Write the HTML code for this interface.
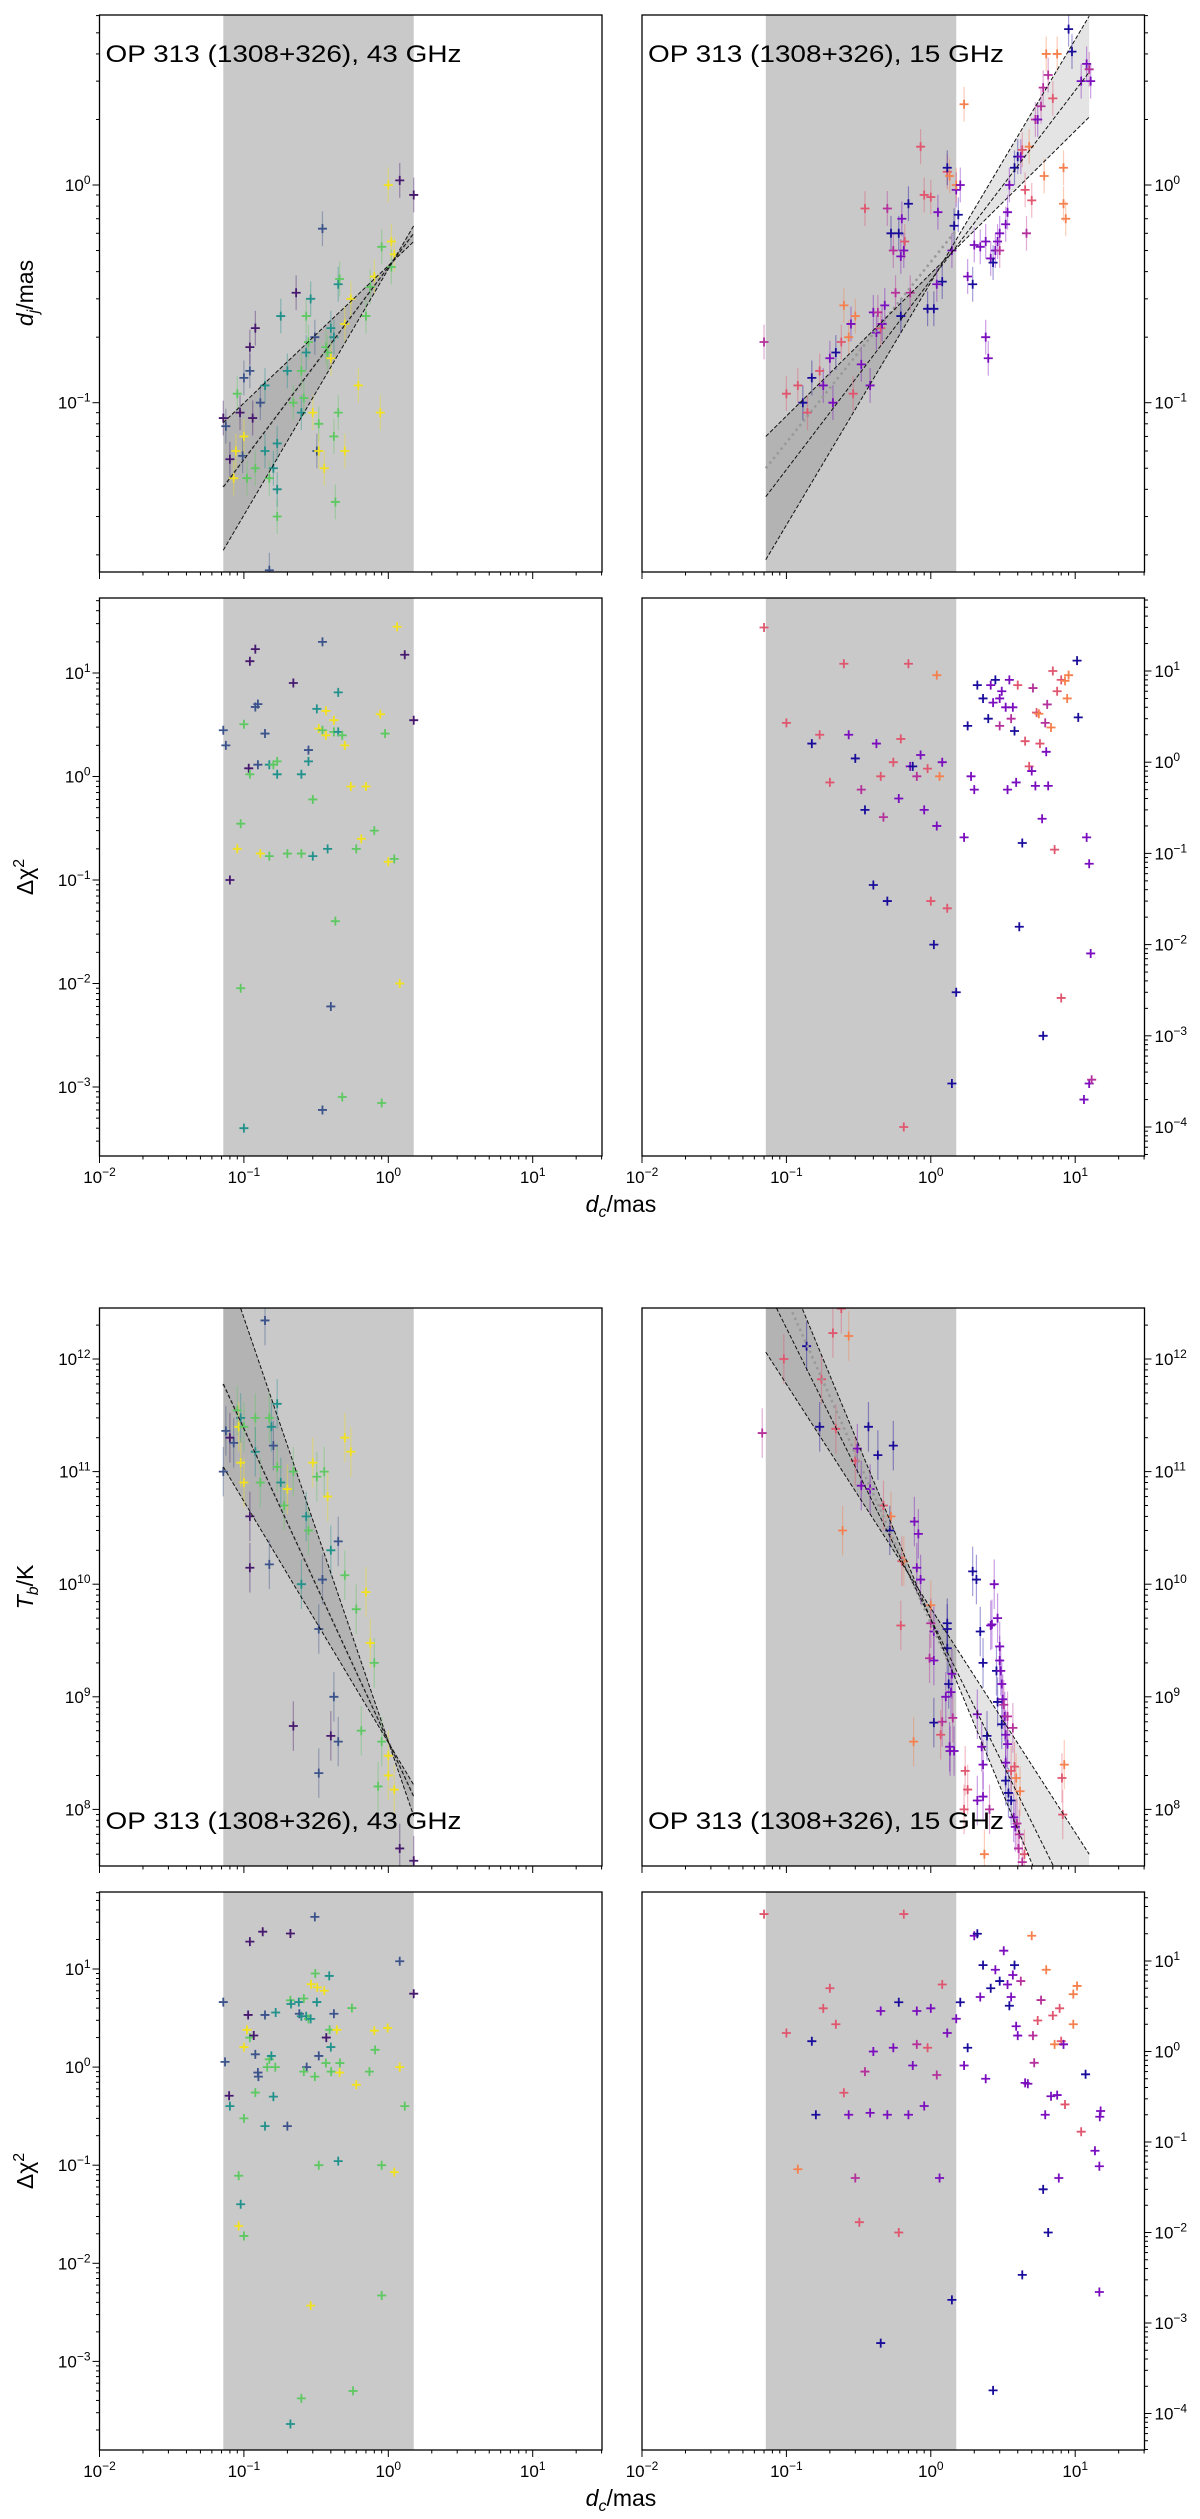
<!DOCTYPE html>
<html><head><meta charset="utf-8">
<style>
html,body{margin:0;padding:0;background:#fff;}
svg{display:block;font-family:"Liberation Sans","DejaVu Sans",sans-serif;}
</style></head>
<body>
<svg id="fig" width="1200" height="2519" viewBox="0 0 1200 2519" xmlns="http://www.w3.org/2000/svg"></svg>
<script>
// ---------------- DATA ----------------
// colour codes: left (viridis) p,b,t,g,y ; right (plasma) B,P,M,R,O
const xTickLabels = ["10","10","10","10"];
const xTickExps = [-2,-1,0,1];
const shadeRange = [0.072, 1.5];

const djPoints43 = [[0.072,0.085,'p'],[0.075,0.078,'b'],[0.08,0.055,'p'],[0.085,0.045,'y'],[0.088,0.06,'y'],[0.09,0.11,'g'],[0.094,0.09,'p'],[0.098,0.057,'b'],[0.1,0.07,'y'],[0.1,0.13,'b'],[0.105,0.045,'g'],[0.11,0.14,'b'],[0.11,0.18,'p'],[0.115,0.085,'p'],[0.12,0.05,'g'],[0.12,0.22,'p'],[0.13,0.1,'b'],[0.14,0.06,'t'],[0.14,0.12,'t'],[0.15,0.017,'b'],[0.15,0.045,'g'],[0.16,0.05,'t'],[0.17,0.03,'g'],[0.17,0.04,'t'],[0.17,0.065,'t'],[0.18,0.25,'t'],[0.2,0.14,'t'],[0.22,0.1,'g'],[0.23,0.32,'p'],[0.25,0.09,'t'],[0.25,0.14,'g'],[0.26,0.105,'g'],[0.27,0.17,'t'],[0.27,0.25,'g'],[0.28,0.19,'g'],[0.29,0.3,'t'],[0.3,0.09,'y'],[0.31,0.2,'b'],[0.32,0.06,'b'],[0.33,0.08,'g'],[0.33,0.06,'y'],[0.35,0.63,'b'],[0.36,0.05,'y'],[0.37,0.18,'g'],[0.38,0.17,'g'],[0.4,0.16,'y'],[0.4,0.22,'t'],[0.42,0.2,'t'],[0.42,0.07,'g'],[0.43,0.035,'g'],[0.45,0.09,'g'],[0.45,0.35,'t'],[0.46,0.37,'g'],[0.5,0.06,'y'],[0.5,0.23,'y'],[0.55,0.3,'y'],[0.62,0.12,'y'],[0.7,0.25,'g'],[0.75,0.34,'g'],[0.8,0.38,'y'],[0.88,0.09,'y'],[0.9,0.52,'g'],[1.0,1.0,'y'],[1.05,0.55,'y'],[1.05,0.42,'g'],[1.2,1.05,'p'],[1.5,0.9,'p'],[1.1,0.48,'y']];

const chiPoints43a = [[0.072,2.8,'b'],[0.075,2,'b'],[0.08,0.1,'p'],[0.09,0.2,'y'],[0.095,0.35,'g'],[0.095,0.009,'g'],[0.1,0.0004,'t'],[0.1,3.2,'g'],[0.108,1.2,'p'],[0.11,13,'p'],[0.11,1.05,'g'],[0.12,17,'p'],[0.12,4.7,'b'],[0.125,5,'b'],[0.125,1.3,'b'],[0.13,0.18,'y'],[0.14,2.6,'b'],[0.15,1.3,'t'],[0.15,0.17,'g'],[0.16,1.3,'g'],[0.17,1.4,'g'],[0.17,1.05,'t'],[0.2,0.18,'g'],[0.22,8,'p'],[0.25,1.05,'t'],[0.25,0.18,'g'],[0.28,1.8,'b'],[0.28,1.4,'t'],[0.3,0.17,'t'],[0.32,4.5,'t'],[0.33,2.9,'y'],[0.35,2.8,'g'],[0.35,20,'b'],[0.35,0.0006,'b'],[0.37,4.3,'y'],[0.37,2.5,'y'],[0.38,0.2,'t'],[0.4,0.006,'b'],[0.42,3.5,'y'],[0.42,2.7,'g'],[0.43,0.04,'g'],[0.45,6.5,'t'],[0.45,2.7,'t'],[0.48,2.5,'g'],[0.48,0.0008,'g'],[0.5,2,'y'],[0.55,0.8,'y'],[0.6,0.2,'g'],[0.7,0.8,'y'],[0.8,0.3,'g'],[0.9,0.0007,'g'],[0.88,4,'y'],[0.95,2.6,'g'],[1.0,0.15,'y'],[1.1,0.16,'g'],[1.15,28,'y'],[1.2,0.01,'y'],[1.3,15,'p'],[1.5,3.5,'p'],[0.65,0.25,'y'],[0.3,0.6,'g']];

const djPoints15 = [[0.07,0.19,'M'],[0.1,0.11,'R'],[0.12,0.12,'R'],[0.13,0.1,'B'],[0.14,0.09,'R'],[0.15,0.13,'B'],[0.17,0.14,'R'],[0.18,0.12,'P'],[0.2,0.16,'P'],[0.21,0.1,'P'],[0.22,0.17,'B'],[0.24,0.19,'R'],[0.25,0.28,'O'],[0.27,0.2,'O'],[0.28,0.23,'P'],[0.29,0.11,'R'],[0.3,0.25,'O'],[0.33,0.15,'P'],[0.35,0.78,'R'],[0.38,0.12,'P'],[0.4,0.26,'P'],[0.42,0.21,'P'],[0.43,0.26,'M'],[0.45,0.22,'R'],[0.46,0.23,'P'],[0.48,0.28,'P'],[0.5,0.78,'M'],[0.53,0.6,'B'],[0.55,0.5,'M'],[0.57,0.32,'M'],[0.6,0.6,'B'],[0.62,0.25,'B'],[0.62,0.47,'P'],[0.63,0.7,'P'],[0.65,0.5,'P'],[0.66,0.55,'R'],[0.7,0.82,'B'],[0.72,0.32,'M'],[0.85,1.5,'R'],[0.9,0.9,'R'],[0.95,0.27,'B'],[1.0,0.88,'R'],[1.05,0.27,'B'],[1.1,0.35,'P'],[1.12,0.75,'P'],[1.2,0.36,'B'],[1.3,1.15,'R'],[1.3,1.2,'B'],[1.35,1.1,'O'],[1.4,0.5,'P'],[1.45,0.65,'B'],[1.5,0.95,'P'],[1.55,0.73,'B'],[1.5,1.0,'O'],[1.6,1.0,'P'],[1.7,2.35,'O'],[1.8,0.38,'P'],[1.95,0.35,'B'],[2.0,0.53,'P'],[2.2,0.52,'P'],[2.4,0.2,'P'],[2.5,0.16,'P'],[2.4,0.55,'P'],[2.6,0.46,'P'],[2.7,0.44,'B'],[2.8,0.5,'P'],[2.9,0.55,'P'],[3.0,0.6,'P'],[3.0,0.5,'M'],[3.3,0.66,'P'],[3.4,0.75,'P'],[3.5,1.0,'P'],[3.8,1.2,'B'],[4.0,1.35,'B'],[4.2,1.35,'P'],[4.3,1.45,'R'],[4.5,0.95,'R'],[4.6,0.6,'M'],[4.8,1.5,'O'],[5.0,0.85,'R'],[5.3,2.0,'M'],[5.5,2.0,'P'],[5.8,2.3,'M'],[6.0,2.8,'M'],[6.1,1.1,'O'],[6.3,4.0,'O'],[6.5,3.2,'M'],[7.0,2.5,'R'],[7.5,4.0,'O'],[8.3,1.2,'O'],[8.3,0.82,'O'],[8.6,0.7,'O'],[9.0,5.2,'B'],[9.5,4.1,'B'],[11,3.0,'P'],[12,3.6,'P'],[12.5,3.4,'M'],[12.8,3.0,'P']];

const chiPoints15a = [[0.07,30,'R'],[0.1,2.7,'R'],[0.15,1.6,'B'],[0.17,2,'R'],[0.2,0.6,'R'],[0.25,12,'R'],[0.27,2,'P'],[0.3,1.1,'B'],[0.33,0.5,'M'],[0.35,0.3,'B'],[0.4,0.045,'B'],[0.42,1.6,'P'],[0.45,0.7,'R'],[0.47,0.25,'M'],[0.5,0.03,'B'],[0.55,1,'R'],[0.6,0.4,'P'],[0.62,1.8,'R'],[0.65,0.0001,'R'],[0.7,12,'R'],[0.72,0.9,'P'],[0.75,0.9,'B'],[0.8,0.7,'M'],[0.85,1.2,'P'],[0.9,0.3,'P'],[0.95,0.85,'R'],[1.0,0.03,'R'],[1.05,0.01,'B'],[1.1,9,'O'],[1.1,0.2,'P'],[1.15,0.7,'O'],[1.2,1.0,'P'],[1.3,0.025,'R'],[1.4,0.0003,'B'],[1.5,0.003,'B'],[1.7,0.15,'P'],[1.8,2.5,'B'],[1.9,0.7,'P'],[2.0,0.5,'P'],[2.1,7,'B'],[2.3,5,'B'],[2.5,3,'B'],[2.6,7,'P'],[2.7,4.5,'P'],[2.8,8,'B'],[3.0,2.5,'M'],[3.0,5,'P'],[3.1,6,'P'],[3.3,4,'P'],[3.4,0.5,'P'],[3.5,8,'P'],[3.6,3,'M'],[3.7,4,'P'],[3.8,2.2,'B'],[3.9,0.6,'P'],[4.0,7,'R'],[4.1,0.0157,'B'],[4.3,0.13,'B'],[4.5,1.7,'R'],[4.8,0.9,'R'],[5.0,0.8,'P'],[5.1,6.5,'M'],[5.3,0.55,'P'],[5.4,3.5,'R'],[5.6,3.4,'O'],[5.7,1.6,'R'],[5.9,0.24,'P'],[6.0,0.001,'B'],[6.2,2.7,'M'],[6.5,0.55,'P'],[6.4,4.3,'M'],[6.3,1.3,'P'],[6.8,2.4,'O'],[7.0,10,'R'],[7.2,0.11,'R'],[7.5,6,'R'],[8.0,0.0026,'R'],[8.0,8,'R'],[8.5,7.8,'O'],[8.8,5,'O'],[9.0,9,'O'],[10.3,13,'B'],[10.5,3.1,'B'],[12,0.15,'P'],[12.5,0.077,'P'],[12.8,0.008,'P'],[11.5,0.0002,'P'],[12.5,0.0003,'P'],[13,0.00033,'M']];

const tbPoints43 = [[0.072,1e11,'b'],[0.075,2.3e11,'b'],[0.08,2e11,'p'],[0.085,1.8e11,'b'],[0.09,3.5e11,'g'],[0.092,2.5e11,'y'],[0.095,1.2e11,'y'],[0.095,3e11,'t'],[0.1,2.5e11,'g'],[0.1,8e10,'y'],[0.11,4e10,'p'],[0.11,1.4e10,'p'],[0.12,3e11,'g'],[0.12,1.5e11,'t'],[0.13,8e10,'g'],[0.14,2.2e12,'b'],[0.15,3e11,'g'],[0.155,2.5e11,'t'],[0.16,1.7e11,'b'],[0.17,4e11,'t'],[0.17,1.1e11,'g'],[0.18,8e10,'t'],[0.19,5e10,'g'],[0.2,7e10,'y'],[0.22,1e11,'g'],[0.22,5.5e8,'p'],[0.25,1e10,'t'],[0.27,4e10,'t'],[0.3,1.2e11,'y'],[0.32,9e10,'g'],[0.33,4e9,'b'],[0.33,2.1e8,'b'],[0.35,1.1e10,'b'],[0.36,1e11,'g'],[0.38,6e10,'y'],[0.4,4.5e8,'p'],[0.4,2e10,'t'],[0.42,1e9,'b'],[0.45,4e8,'b'],[0.45,2.4e10,'b'],[0.5,2e11,'y'],[0.5,1.2e10,'g'],[0.55,1.5e11,'y'],[0.6,6e9,'g'],[0.65,5e8,'g'],[0.7,8.5e9,'y'],[0.75,3e9,'y'],[0.8,2e9,'g'],[0.85,1.6e8,'g'],[0.9,4e8,'g'],[1.0,2e8,'y'],[1.0,3e8,'y'],[1.1,1.5e8,'y'],[1.2,4.5e7,'p'],[1.5,3.5e7,'p'],[0.15,1.5e10,'b'],[0.28,3e10,'g']];

const tbPoints15 = [[0.068,2.2e11,'M'],[0.096,1e12,'R'],[0.138,1.3e12,'B'],[0.17,2.5e11,'B'],[0.175,6.6e11,'R'],[0.21,1.7e12,'R'],[0.22,2.4e11,'R'],[0.27,1.6e12,'O'],[0.245,3e10,'O'],[0.3,1.25e11,'R'],[0.31,1.6e11,'P'],[0.33,7.5e10,'P'],[0.37,2.5e11,'B'],[0.38,7e10,'P'],[0.43,1.4e11,'B'],[0.47,5e10,'R'],[0.52,3e10,'B'],[0.53,4e10,'O'],[0.55,1.7e11,'B'],[0.62,4.3e9,'R'],[0.63,1.6e10,'R'],[0.65,1.6e10,'O'],[0.76,4e8,'O'],[0.77,3.6e10,'P'],[0.8,1.4e10,'P'],[0.82,2.8e10,'P'],[0.85,1.1e10,'P'],[0.98,2.2e9,'M'],[1.0,6.5e9,'O'],[1.0,4.5e9,'M'],[1.05,5.9e8,'B'],[1.05,2.1e9,'P'],[1.05,3.8e9,'P'],[1.17,4.6e8,'R'],[1.2,6e8,'M'],[1.27,1e9,'P'],[1.3,4e9,'B'],[1.3,4.5e9,'B'],[1.3,2.7e9,'B'],[1.33,1.3e9,'B'],[1.35,3.6e8,'P'],[1.36,3.3e8,'P'],[1.38,1.1e9,'P'],[1.4,1.6e9,'P'],[1.42,6.5e8,'M'],[1.45,3.3e8,'P'],[1.73,2.2e8,'R'],[1.7,1e8,'R'],[1.8,1.5e8,'R'],[1.95,1.3e10,'B'],[2.07,1.1e10,'B'],[2.1,7e8,'P'],[2.1,1.2e8,'P'],[2.2,3.8e9,'B'],[2.25,3.6e8,'P'],[2.3,2e9,'B'],[2.3,2.5e8,'P'],[2.3,1.3e8,'P'],[2.35,4e7,'O'],[2.45,4.5e8,'B'],[2.55,1e8,'M'],[2.6,4.3e9,'P'],[2.65,4.4e9,'P'],[2.75,1e10,'P'],[2.85,1.7e9,'B'],[2.9,5e9,'P'],[2.9,9e8,'B'],[3.0,2.8e9,'P'],[3.0,2.1e9,'P'],[3.05,1.7e9,'P'],[3.1,1.3e9,'P'],[3.1,5.7e8,'B'],[3.15,9.5e8,'P'],[3.2,8.5e8,'M'],[3.25,6.7e8,'P'],[3.3,4.6e8,'P'],[3.3,2.6e8,'P'],[3.3,1.8e8,'B'],[3.4,3.8e8,'P'],[3.4,6.7e8,'M'],[3.45,1.4e8,'B'],[3.6,1.2e8,'B'],[3.6,2.2e8,'R'],[3.7,5.3e8,'M'],[3.75,8.5e7,'P'],[3.8,2.4e8,'R'],[3.85,7e7,'P'],[3.9,1.9e8,'O'],[3.95,7.5e7,'M'],[4.05,4.5e7,'M'],[4.1,6e7,'M'],[4.15,1.45e8,'O'],[4.3,3.4e7,'M'],[4.45,4e7,'R'],[8.1,1.9e8,'R'],[8.2,9e7,'R'],[8.4,2.5e8,'O'],[0.24,2.8e12,'R']];

const chiPoints43b = [[0.072,4.6,'b'],[0.074,1.13,'b'],[0.079,0.51,'p'],[0.1,1.6,'y'],[0.105,2.4,'y'],[0.107,3.4,'p'],[0.11,19,'p'],[0.11,2.0,'g'],[0.117,2.1,'p'],[0.12,1.35,'b'],[0.125,0.88,'b'],[0.126,0.8,'b'],[0.12,0.55,'g'],[0.135,24,'p'],[0.14,3.4,'b'],[0.145,1.0,'g'],[0.15,1.2,'g'],[0.155,1.3,'t'],[0.16,0.5,'t'],[0.165,1.0,'g'],[0.166,3.6,'t'],[0.21,23,'p'],[0.21,4.8,'g'],[0.212,4.4,'t'],[0.24,4.6,'t'],[0.242,3.5,'b'],[0.25,3.3,'t'],[0.26,5,'g'],[0.27,3.3,'t'],[0.272,1.0,'b'],[0.26,0.9,'g'],[0.28,3.1,'g'],[0.29,3.1,'t'],[0.292,7,'y'],[0.31,0.8,'g'],[0.31,34,'b'],[0.312,9,'g'],[0.32,4.6,'t'],[0.322,6.5,'y'],[0.33,1.3,'b'],[0.36,6,'y'],[0.37,1.1,'g'],[0.372,2,'p'],[0.39,8.5,'t'],[0.392,2.4,'g'],[0.4,1.6,'t'],[0.402,0.9,'g'],[0.42,3.5,'b'],[0.44,2.4,'y'],[0.46,0.88,'y'],[0.462,1.1,'g'],[0.56,4,'g'],[0.6,0.66,'y'],[0.74,0.9,'g'],[0.8,2.35,'y'],[0.81,1.5,'g'],[0.99,2.5,'y'],[0.092,0.078,'g'],[0.095,0.04,'t'],[0.092,0.024,'y'],[0.1,0.019,'g'],[0.14,0.25,'t'],[0.33,0.1,'g'],[0.45,0.11,'t'],[0.9,0.1,'g'],[1.1,0.085,'y'],[0.29,0.0037,'y'],[0.9,0.0047,'g'],[0.25,0.00042,'g'],[0.21,0.00023,'t'],[0.57,0.0005,'g'],[1.2,12,'b'],[1.5,5.6,'p'],[1.2,1.0,'y'],[1.3,0.4,'g'],[0.08,0.4,'t'],[0.1,0.3,'g'],[0.2,0.25,'b']];

const chiPoints15b = [[0.07,33,'R'],[0.1,1.6,'R'],[0.12,0.05,'O'],[0.15,1.3,'B'],[0.16,0.2,'B'],[0.18,3,'R'],[0.2,5,'R'],[0.22,2,'R'],[0.25,0.35,'R'],[0.27,0.2,'P'],[0.3,0.04,'M'],[0.32,0.013,'R'],[0.35,0.6,'M'],[0.38,0.21,'P'],[0.4,1.0,'P'],[0.45,0.0006,'B'],[0.45,2.8,'P'],[0.5,0.2,'P'],[0.55,1.1,'P'],[0.6,0.01,'R'],[0.6,3.5,'B'],[0.65,33,'R'],[0.7,0.2,'P'],[0.75,0.7,'P'],[0.8,2.8,'P'],[0.8,1.2,'M'],[0.9,0.25,'P'],[0.95,1.1,'R'],[1.0,3,'P'],[1.1,0.55,'M'],[1.15,0.04,'P'],[1.2,5.5,'R'],[1.3,1.6,'P'],[1.4,0.0018,'B'],[1.5,2.3,'P'],[1.6,3.5,'B'],[1.7,0.7,'P'],[1.8,1.1,'B'],[2.0,19,'P'],[2.1,20,'B'],[2.2,4,'P'],[2.3,9,'B'],[2.4,0.5,'P'],[2.6,5,'B'],[2.7,0.00018,'B'],[2.8,8,'P'],[3.0,6,'B'],[3.2,13,'P'],[3.4,5.5,'P'],[3.5,3.2,'B'],[3.6,4,'P'],[3.7,7,'P'],[3.8,9,'B'],[3.9,1.9,'P'],[4.0,1.5,'P'],[4.2,6,'M'],[4.3,0.0034,'B'],[4.5,0.45,'P'],[4.7,0.44,'P'],[5.0,19,'O'],[5.1,1.5,'M'],[5.2,0.75,'M'],[5.5,2.2,'R'],[5.8,3.7,'M'],[6.0,0.03,'B'],[6.2,0.2,'P'],[6.5,0.01,'B'],[6.8,0.32,'P'],[7.0,2.5,'R'],[7.2,1.2,'O'],[7.5,0.33,'P'],[7.7,0.04,'P'],[8.0,1.3,'R'],[8.3,1.2,'P'],[8.5,0.26,'R'],[7.8,3,'R'],[9.7,2.0,'O'],[9.7,4.3,'O'],[10.3,5.3,'O'],[11.8,0.56,'B'],[6.3,8,'O'],[14.7,0.054,'P'],[13.7,0.08,'P'],[15,0.22,'P'],[14.8,0.19,'P'],[14.7,0.0022,'P'],[11,0.13,'R']];

// fit lines: [x0, y0, x1, y1]  (first = shallow, last = steep)
const fitDj43 = [[0.072,0.081,1.5,0.55],[0.072,0.041,1.5,0.6],[0.072,0.021,1.5,0.65]];
const fitDj15 = [[0.072,0.07,12.5,2.05],[0.072,0.037,12.5,3.3],[0.072,0.019,12.5,5.97]];
const dotDj15 = [0.072,0.05,1.5,0.62];
const fitTb43 = [[0.072,1.1e11,1.5,1.65e8],[0.072,6e11,1.5,1.3e8],[0.072,8e12,1.5,8.7e7]];
const fitTb15 = [[0.072,1.15e12,12.5,4e7],[0.072,4.4e12,12.5,7.2e6],[0.072,1.7e13,12.5,1.95e6]];
const dotTb15 = [0.11,2.6e12,1.35,1.9e9];

// ---------------- RENDER ----------------
const NS = "http://www.w3.org/2000/svg";
const svg = document.getElementById('fig');
const COLORS = {p:'#46186e',b:'#3b528b',t:'#21918c',g:'#5ec962',y:'#f2e11e',
                B:'#1a0c9a',P:'#7a0dbd',M:'#b5309b',R:'#e0566e',O:'#f5804d'};
function mk(tag, attrs, parent){const e=document.createElementNS(NS,tag);for(const k in attrs)e.setAttribute(k,attrs[k]);(parent||svg).appendChild(e);return e;}
const L10=Math.log10;
const XDEC=144.4;
function makeX(x0){return v=>x0+XDEC*(L10(v)+2);}
function makeY(refPx, refExp, dec){return v=>refPx-dec*(L10(v)-refExp);}

let clipId=0;
function panel(o){
  const g=mk('g',{});
  
  
  const x0=o.x0, x1=o.x0+502.5, y0=o.top, y1=o.bottom;
  const X=makeX(x0), Y=makeY(o.refPx,o.refExp,o.dec);
  const cid='clip'+(clipId++);
  const cp=mk('clipPath',{id:cid},g); mk('rect',{x:x0,y:y0,width:x1-x0,height:y1-y0},cp);
  const body=mk('g',{'clip-path':'url(#'+cid+')'},g);
  // shaded region
  const sh=mk('rect',{x:X(shadeRange[0]),y:y0,width:X(shadeRange[1])-X(shadeRange[0]),height:y1-y0,fill:'#c9c9c9'},body);
  
  
  // fit band
  if(o.fits){
    const a=o.fits[0], c=o.fits[o.fits.length-1];
    const pts=[[X(a[0]),Y(a[1])],[X(a[2]),Y(a[3])],[X(c[2]),Y(c[3])],[X(c[0]),Y(c[1])]];
    const band=mk('polygon',{points:pts.map(p=>p.join(',')).join(' '),fill:'rgba(0,0,0,0.106)'},body);
    
    
  }
  // errors + points
  const pts=o.points;
  for(const p of pts){
    const cx=X(p[0]), cy=Y(p[1]), col=COLORS[p[2]];
    if(o.err){
      const e=mk('line',{x1:cx,x2:cx,y1:Y(p[1]*Math.pow(10,o.err)),y2:Y(p[1]/Math.pow(10,o.err)),stroke:col,'stroke-width':1.2,'stroke-opacity':0.4},body);
      
      
    }
  }
  for(const p of pts){
    const cx=X(p[0]), cy=Y(p[1]), col=COLORS[p[2]];
    const m=mk('path',{d:`M${cx-4.5},${cy}H${cx+4.5}M${cx},${cy-4.5}V${cy+4.5}`,stroke:col,'stroke-width':1.8,fill:'none'},body);
    
    
  }
  if(o.dot){
    const d=o.dot;
    const dl=mk('line',{x1:X(d[0]),y1:Y(d[1]),x2:X(d[2]),y2:Y(d[3]),stroke:'#999','stroke-width':2.5,'stroke-dasharray':'2.5,3.5'},body);
    
    
  }
  if(o.fits){
    for(const f of o.fits){
      const l=mk('line',{x1:X(f[0]),y1:Y(f[1]),x2:X(f[2]),y2:Y(f[3]),stroke:'#111','stroke-width':1,'stroke-dasharray':'4,2'},body);
      
      
    }
  }
  // frame
  const fr=mk('rect',{x:x0,y:y0,width:x1-x0,height:y1-y0,fill:'none',stroke:'#000','stroke-width':1.3},g);
  
  
  // x ticks
  for(let e=-2;e<=1;e++){
    for(let k=1;k<=9;k++){
      const v=k*Math.pow(10,e); const px=X(v); if(px>x1+0.5) continue;
      mk('line',{x1:px,x2:px,y1:y1,y2:y1+(k==1?7:3.5),stroke:'#000','stroke-width':1},g);
    }
  }
  if(o.xlabels){
    xTickExps.forEach((e,i)=>{
      const t=mk('text',{x:X(Math.pow(10,e)),y:y1+27,'text-anchor':'middle','font-size':17},g);
      
      
      t.innerHTML=xTickLabels[i]+'<tspan dy="-7" font-size="12">'+(e<0?'\u2212'+(-e):e)+'</tspan>';
    });
  }
  // y ticks
  const lo=Math.floor(o.refExp-(y1-o.refPx)/o.dec)-1, hi=Math.ceil(o.refExp+(o.refPx-y0)/o.dec)+1;
  const side=o.right?x1:x0, dir=o.right?1:-1;
  for(let e=lo;e<=hi;e++){
    for(let k=1;k<=9;k++){
      const py=Y(k*Math.pow(10,e)); if(py<y0-0.5||py>y1+0.5) continue;
      mk('line',{x1:side,x2:side+dir*(k==1?7:3.5),y1:py,y2:py,stroke:'#000','stroke-width':1},g);
      if(k==1){
        const t=mk('text',{x:side+dir*(o.right?10:33),y:py+6,'text-anchor':o.right?'start':'end','font-size':17},g);
        
        
        const es=(e<0?'\u2212'+(-e):''+e);
        t.innerHTML='10<tspan dy="-7" font-size="12">'+es+'</tspan>';
        if(!o.right){ t.setAttribute('x',side-9); }
      }
    }
  }
  if(o.title){
    const t=mk('text',{x:x0+6,y:o.titleY,'font-size':24,textLength:356,lengthAdjust:'spacingAndGlyphs'},g);
    t.textContent=o.title;
    
    
  }
}

const XL=99.5, XR=642;
panel({name:'dj-43ghz-panel',x0:XL,top:15,bottom:572,refPx:185,refExp:0,dec:217.7,points:djPoints43,err:0.08,fits:fitDj43,dot:[0.072,0.041,1.5,0.6],title:'OP 313 (1308+326), 43 GHz',titleY:62});
panel({name:'dj-15ghz-panel',x0:XR,right:true,top:15,bottom:572,refPx:185,refExp:0,dec:217.7,points:djPoints15,err:0.08,fits:fitDj15,dot:dotDj15,title:'OP 313 (1308+326), 15 GHz',titleY:62});
panel({name:'chi2-dj-43ghz-panel',x0:XL,top:598,bottom:1156,refPx:673,refExp:1,dec:103.5,points:chiPoints43a,xlabels:true});
panel({name:'chi2-dj-15ghz-panel',x0:XR,right:true,top:598,bottom:1156,refPx:671,refExp:1,dec:91.2,points:chiPoints15a,xlabels:true});
panel({name:'tb-43ghz-panel',x0:XL,top:1308,bottom:1866,refPx:1359,refExp:12,dec:112.6,points:tbPoints43,err:0.22,fits:fitTb43,dot:[0.072,6e11,1.5,1.3e8],title:'OP 313 (1308+326), 43 GHz',titleY:1829});
panel({name:'tb-15ghz-panel',x0:XR,right:true,top:1308,bottom:1866,refPx:1359,refExp:12,dec:112.6,points:tbPoints15,err:0.22,fits:fitTb15,dot:dotTb15,title:'OP 313 (1308+326), 15 GHz',titleY:1829});
panel({name:'chi2-tb-43ghz-panel',x0:XL,top:1892,bottom:2450,refPx:1969,refExp:1,dec:98.1,points:chiPoints43b,xlabels:true});
panel({name:'chi2-tb-15ghz-panel',x0:XR,right:true,top:1892,bottom:2450,refPx:1961,refExp:1,dec:90.5,points:chiPoints15b,xlabels:true});

// axis titles
function label(html,x,y,rot,name){
  const t=mk('text',{x:x,y:y,'text-anchor':'middle','font-size':23,transform:rot?`rotate(-90 ${x} ${y})`:''});
  t.innerHTML=html;
  
  
}
label('<tspan font-style="italic">d</tspan><tspan font-style="italic" font-size="16" dy="5">j</tspan><tspan dy="-5">/mas</tspan>',33,293,true,'y-axis-title-dj');
label('\u0394\u03c7<tspan font-size="16" dy="-9">2</tspan>',33,877,true,'y-axis-title-chi2');
label('<tspan font-style="italic">T</tspan><tspan font-style="italic" font-size="16" dy="5">b</tspan><tspan dy="-5">/K</tspan>',33,1587,true,'y-axis-title-tb');
label('\u0394\u03c7<tspan font-size="16" dy="-9">2</tspan>',33,2171,true,'y-axis-title-chi2-lower');
label('<tspan font-style="italic">d</tspan><tspan font-style="italic" font-size="16" dy="5">c</tspan><tspan dy="-5">/mas</tspan>',621,1212,false,'x-axis-title');
label('<tspan font-style="italic">d</tspan><tspan font-style="italic" font-size="16" dy="5">c</tspan><tspan dy="-5">/mas</tspan>',621,2506,false,'x-axis-title-lower');
</script>
</body></html>
